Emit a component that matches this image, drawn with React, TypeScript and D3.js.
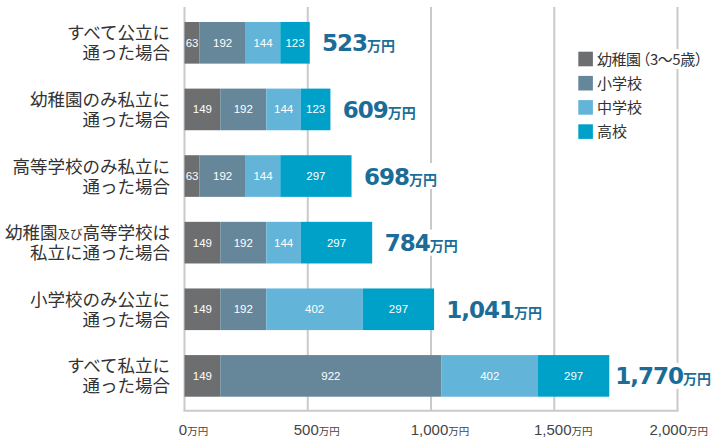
import { useEffect, useRef } from 'react';
import * as d3 from 'd3';

// rows: label lines (small = rendered smaller), top to bottom
const categories = [
  'すべて公立',
  '幼稚園のみ私立',
  '高等学校のみ私立',
  '幼稚園及び高等学校は私立',
  '小学校のみ公立',
  'すべて私立',
];
const labelLines: { text: string; small?: boolean }[][][] = [
  [[{ text: 'すべて公立に' }], [{ text: '通った場合' }]],
  [[{ text: '幼稚園のみ私立に' }], [{ text: '通った場合' }]],
  [[{ text: '高等学校のみ私立に' }], [{ text: '通った場合' }]],
  [[{ text: '幼稚園' }, { text: '及び', small: true }, { text: '高等学校は' }], [{ text: '私立に通った場合' }]],
  [[{ text: '小学校のみ公立に' }], [{ text: '通った場合' }]],
  [[{ text: 'すべて私立に' }], [{ text: '通った場合' }]],
];

// legend names split where the full-width bracket gets tightened
const seriesNames: string[][] = [['幼稚園', '（3〜5歳）'], ['小学校'], ['中学校'], ['高校']];
const kindergarten = [63, 149, 63, 149, 149, 149];
const elementary = [192, 192, 192, 192, 192, 922];
const juniorHigh = [144, 144, 144, 144, 402, 402];
const highSchool = [123, 123, 297, 297, 297, 297];
const totals = [523, 609, 698, 784, 1041, 1770];

const xTicks = [0, 500, 1000, 1500, 2000];
const colors = ['#6d6e70', '#66879a', '#62b4d9', '#00a1c9'];

const JP = "'Noto Sans CJK JP', 'Noto Sans', sans-serif";

export default function App() {
  const ref = useRef<SVGSVGElement>(null);

  useEffect(() => {
    if (!ref.current) return;
    const svg = d3.select(ref.current);
    svg.selectAll('*').remove();

    const width = 712;
    const left = 184.5;
    const right = 677.5;
    const top = 7;
    const bottom = 410.7;

    // axis / grid scale
    const x = d3.scaleLinear().domain([0, 2000]).range([left, right]);
    // the source draws its bars a little shorter than the grid
    const xBar = d3.scaleLinear().domain([0, 2000]).range([left, left + 480]);
    const y = d3.scaleBand<string>()
      .domain(categories)
      .range([8, bottom])
      .paddingInner(0.375)
      .paddingOuter(0.21);

    const series = [kindergarten, elementary, juniorHigh, highSchool];

    // grid lines
    svg.append('g')
      .selectAll('line')
      .data(xTicks)
      .enter()
      .append('line')
      .attr('x1', d => x(d))
      .attr('x2', d => x(d))
      .attr('y1', top)
      .attr('y2', bottom)
      .attr('stroke', '#cacaca')
      .attr('stroke-width', 2);

    svg.append('line')
      .attr('x1', left - 1)
      .attr('x2', right + 1)
      .attr('y1', bottom)
      .attr('y2', bottom)
      .attr('stroke', '#cacaca')
      .attr('stroke-width', 2);

    // stacked bars
    categories.forEach((cat, i) => {
      let acc = 0;
      series.forEach((s, k) => {
        const v = s[i];
        const x0 = xBar(acc);
        const x1 = xBar(acc + v);
        svg.append('rect')
          .attr('x', x0)
          .attr('y', y(cat)!)
          .attr('width', x1 - x0)
          .attr('height', y.bandwidth())
          .attr('fill', colors[k]);
        svg.append('text')
          .attr('x', (x0 + x1) / 2)
          .attr('y', y(cat)! + y.bandwidth() / 2 + 4)
          .attr('text-anchor', 'middle')
          .attr('fill', '#ffffff')
          .attr('font-family', "'Liberation Sans', Arial, sans-serif")
          .attr('font-size', 11.5)
          .text(String(v));
        acc += v;
      });

      // total label with white background
      const cy = y(cat)! + y.bandwidth() / 2;
      const g = svg.append('g');
      const bg = g.append('rect').attr('fill', '#ffffff');
      const t = g.append('text')
        .attr('y', cy + 8.5)
        .attr('fill', '#1b6d97');
      t.append('tspan')
        .attr('font-family', "'DejaVu Sans', sans-serif")
        .attr('font-weight', 'bold')
        .attr('font-size', 23)
        .attr('letter-spacing', -1)
        .text(d3.format(',')(totals[i]));
      t.append('tspan')
        .attr('font-family', JP)
        .attr('font-weight', 'bold')
        .attr('font-size', 14)
        .text('万円');
      const w = (t.node() as SVGTextElement).getComputedTextLength();
      const tx = Math.min(xBar(totals[i]) + 12, width - 1 - w);
      t.attr('x', tx);
      bg.attr('x', tx - 3).attr('y', cy - 13).attr('width', w + 6).attr('height', 26);

      // category label
      const lines = labelLines[i];
      lines.forEach((parts, li) => {
        const lt = svg.append('text')
          .attr('x', 170)
          .attr('y', cy - 3.5 + li * 20)
          .attr('text-anchor', 'end')
          .attr('fill', '#333333')
          .attr('font-family', JP)
          .attr('font-size', 17.5);
        parts.forEach(p => {
          lt.append('tspan')
            .attr('font-size', p.small ? 12.5 : 17.5)
            .text(p.text);
        });
      });
    });

    // x tick labels
    xTicks.forEach((d, i) => {
      const t = svg.append('text')
        .attr('y', 435)
        .attr('fill', '#444444')
        .attr('font-family', "'Liberation Sans', Arial, sans-serif");
      const num = t.append('tspan').attr('font-size', 15).text(d3.format(',')(d));
      t.append('tspan').attr('font-size', 10.5).attr('font-family', JP).text('万円');
      const nw = (num.node() as SVGTSpanElement).getComputedTextLength();
      const w = (t.node() as SVGTextElement).getComputedTextLength();
      let tx = x(d) - nw / 2 - 1.5;
      if (i === xTicks.length - 1) tx = Math.min(tx, width - 4 - w);
      t.attr('x', tx);
    });

    // legend
    seriesNames.forEach((parts, k) => {
      const ly = 59 + k * 24.2;
      const g = svg.append('g');
      const bg = g.append('rect').attr('fill', '#ffffff');
      g.append('rect')
        .attr('x', 578.3)
        .attr('y', ly - 7.3)
        .attr('width', 14.6)
        .attr('height', 14.6)
        .attr('fill', colors[k]);
      const t = g.append('text')
        .attr('x', 597)
        .attr('y', ly + 5.5)
        .attr('fill', '#333333')
        .attr('font-family', JP)
        .attr('font-size', 15)
        .attr('letter-spacing', parts.length > 1 ? -0.5 : 0);
      parts.forEach((p, j) => {
        t.append('tspan').attr('dx', j > 0 ? -5 : 0).text(p);
      });
      const bb = (t.node() as SVGTextElement).getBBox();
      bg.attr('x', 595).attr('y', ly - 10).attr('width', bb.width + 4).attr('height', 20);
    });
  }, []);

  return (
    <svg
      ref={ref}
      width={712}
      height={439}
      style={{ position: 'absolute', left: 0, top: 0, background: '#ffffff' }}
    />
  );
}
